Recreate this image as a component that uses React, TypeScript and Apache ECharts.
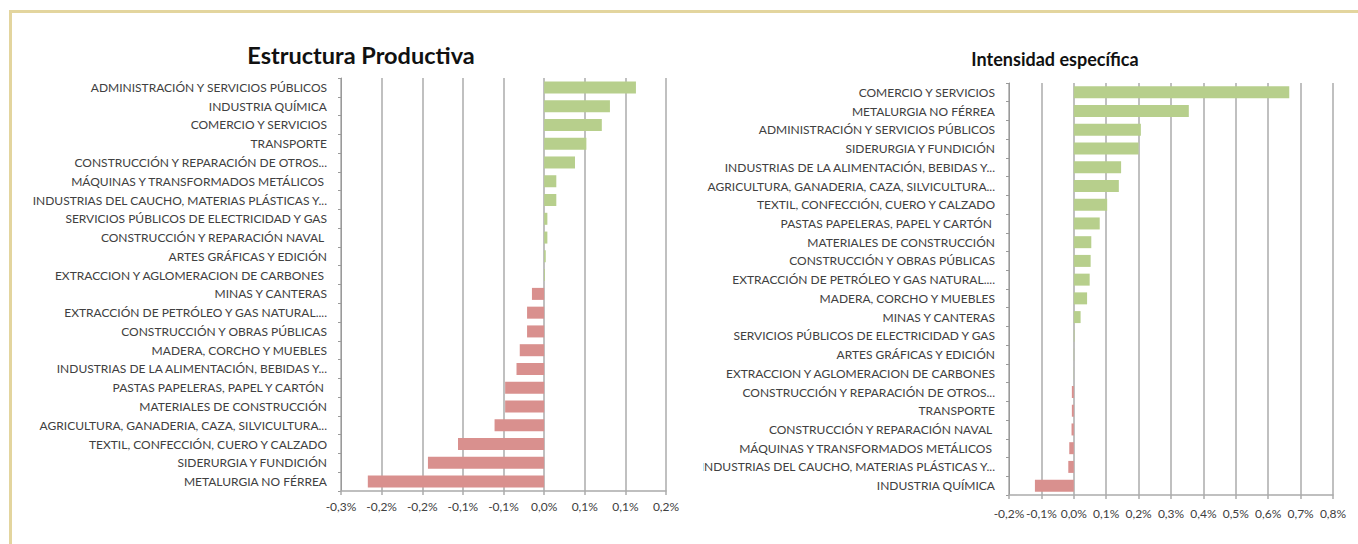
import React, { useEffect, useRef } from "react";
import * as echarts from "echarts";

// ---- Left chart: Estructura Productiva ----
const leftTitle = "Estructura Productiva";
const leftCategories = [
  "ADMINISTRACIÓN Y SERVICIOS PÚBLICOS",
  "INDUSTRIA QUÍMICA",
  "COMERCIO Y SERVICIOS",
  "TRANSPORTE",
  "CONSTRUCCIÓN Y REPARACIÓN DE OTROS...",
  "MÁQUINAS Y TRANSFORMADOS METÁLICOS ",
  "INDUSTRIAS DEL CAUCHO, MATERIAS PLÁSTICAS Y...",
  "SERVICIOS PÚBLICOS DE ELECTRICIDAD Y GAS",
  "CONSTRUCCIÓN Y REPARACIÓN NAVAL ",
  "ARTES GRÁFICAS Y EDICIÓN",
  "EXTRACCION Y AGLOMERACION DE CARBONES ",
  "MINAS Y CANTERAS",
  "EXTRACCIÓN DE PETRÓLEO Y GAS NATURAL....",
  "CONSTRUCCIÓN Y OBRAS PÚBLICAS",
  "MADERA, CORCHO Y MUEBLES",
  "INDUSTRIAS DE LA ALIMENTACIÓN, BEBIDAS Y...",
  "PASTAS PAPELERAS, PAPEL Y CARTÓN ",
  "MATERIALES DE CONSTRUCCIÓN",
  "AGRICULTURA, GANADERIA, CAZA, SILVICULTURA...",
  "TEXTIL, CONFECCIÓN, CUERO Y CALZADO",
  "SIDERURGIA Y FUNDICIÓN",
  "METALURGIA NO FÉRREA",
];
const leftValues = [
  0.113, 0.081, 0.071, 0.052, 0.038, 0.015, 0.015, 0.004, 0.004, 0.002, 0.001,
  -0.015, -0.021, -0.021, -0.030, -0.034, -0.048, -0.048, -0.061, -0.106, -0.143, -0.217,
];
const leftAxis = { min: -0.25, max: 0.15, interval: 0.05 };

// ---- Right chart: Intensidad específica ----
const rightTitle = "Intensidad específica";
const rightCategories = [
  "COMERCIO Y SERVICIOS",
  "METALURGIA NO FÉRREA",
  "ADMINISTRACIÓN Y SERVICIOS PÚBLICOS",
  "SIDERURGIA Y FUNDICIÓN",
  "INDUSTRIAS DE LA ALIMENTACIÓN, BEBIDAS Y...",
  "AGRICULTURA, GANADERIA, CAZA, SILVICULTURA...",
  "TEXTIL, CONFECCIÓN, CUERO Y CALZADO",
  "PASTAS PAPELERAS, PAPEL Y CARTÓN ",
  "MATERIALES DE CONSTRUCCIÓN",
  "CONSTRUCCIÓN Y OBRAS PÚBLICAS",
  "EXTRACCIÓN DE PETRÓLEO Y GAS NATURAL....",
  "MADERA, CORCHO Y MUEBLES",
  "MINAS Y CANTERAS",
  "SERVICIOS PÚBLICOS DE ELECTRICIDAD Y GAS",
  "ARTES GRÁFICAS Y EDICIÓN",
  "EXTRACCION Y AGLOMERACION DE CARBONES",
  "CONSTRUCCIÓN Y REPARACIÓN DE OTROS...",
  "TRANSPORTE",
  "CONSTRUCCIÓN Y REPARACIÓN NAVAL ",
  "MÁQUINAS Y TRANSFORMADOS METÁLICOS ",
  "INDUSTRIAS DEL CAUCHO, MATERIAS PLÁSTICAS Y...",
  "INDUSTRIA QUÍMICA",
];
const rightValues = [
  0.665, 0.355, 0.207, 0.200, 0.146, 0.139, 0.103, 0.080, 0.054, 0.052, 0.049,
  0.041, 0.021, 0.002, 0.001, 0.0005, -0.006, -0.006, -0.007, -0.014, -0.017, -0.12,
];
const rightAxis = { min: -0.2, max: 0.8, interval: 0.1 };

const GREEN = "#b7cf8c";
const RED = "#d9908e";
const GRID = "#ababab";
const TEXT = "#404040";
const FONT = "Lato";

function pctLabel(v: number): string {
  if (Math.abs(v) < 1e-9) return "0,0%";
  const sign = v < 0 ? "-" : "";
  const a = Math.round(Math.abs(v) * 10 + 1e-6) / 10;
  return sign + a.toFixed(1).replace(".", ",") + "%";
}

function buildOption(
  title: string,
  titleX: number,
  titleY: number,
  titleSize: number,
  cats: string[],
  vals: number[],
  axis: { min: number; max: number; interval: number },
  grid: { left: number; top: number; width: number; height: number },
  xLabelMargin: number
) {
  return {
    animation: false,
    textStyle: { fontFamily: FONT },
    graphic: [
      {
        type: "text",
        x: titleX,
        y: titleY,
        style: {
          text: title,
          textAlign: "center",
          textVerticalAlign: "middle",
          fontFamily: FONT,
          fontSize: titleSize,
          fontWeight: "bold",
          fill: "#111111",
        },
      },
    ],
    grid: { ...grid, containLabel: false, outerBoundsMode: "none" },
    xAxis: {
      type: "value",
      min: axis.min,
      max: axis.max,
      interval: axis.interval,
      axisLine: { show: true, onZero: false, lineStyle: { color: GRID, width: 1.5 } },
      axisTick: { show: true, length: 4, lineStyle: { color: GRID, width: 1.5 } },
      splitLine: { show: true, lineStyle: { color: GRID, width: 1.5 } },
      axisLabel: {
        color: TEXT,
        fontSize: 12,
        fontFamily: FONT,
        margin: xLabelMargin,
        formatter: pctLabel,
        showMinLabel: true,
        showMaxLabel: true,
        hideOverlap: false,
      },
    },
    yAxis: [
      {
        type: "category",
        data: cats,
        inverse: true,
        position: "left",
        axisLine: { show: false },
        axisTick: { show: false },
        splitLine: { show: false },
        axisLabel: {
          color: TEXT,
          fontSize: 12,
          fontFamily: FONT,
          margin: 14,
          interval: 0,
        },
      },
      {
        type: "category",
        data: cats,
        inverse: true,
        position: "left",
        axisLine: { show: true, onZero: true, lineStyle: { color: "#9a9a9a", width: 1 } },
        axisTick: { show: true, length: 3, lineStyle: { color: "#9a9a9a", width: 1 } },
        axisLabel: { show: false },
        splitLine: { show: false },
      },
    ],
    series: [
      {
        type: "bar",
        yAxisIndex: 0,
        data: vals,
        barWidth: "64%",
        itemStyle: {
          color: (p: any) => (p.value >= 0 ? GREEN : RED),
        },
      },
    ],
  };
}

function Chart(props: { style: React.CSSProperties; option: any }) {
  const ref = useRef<HTMLDivElement>(null);
  useEffect(() => {
    if (!ref.current) return;
    const chart = echarts.init(ref.current, null, { renderer: "svg" });
    chart.setOption(props.option);
    return () => chart.dispose();
  }, []);
  return <div ref={ref} style={props.style} />;
}

export default function App() {
  const leftOption = buildOption(
    leftTitle,
    361,
    55,
    23.5,
    leftCategories,
    leftValues,
    leftAxis,
    { left: 341, top: 78, width: 325, height: 413 },
    9
  );
  const rightOption = buildOption(
    rightTitle,
    1055 - 703,
    59,
    18,
    rightCategories,
    rightValues,
    rightAxis,
    { left: 1009 - 703, top: 83, width: 324, height: 412 },
    12
  );
  return (
    <div
      style={{
        position: "absolute",
        left: 0,
        top: 0,
        width: 1358,
        height: 544,
        background: "#ffffff",
        overflow: "hidden",
      }}
    >
      <div
        style={{
          position: "absolute",
          left: 9,
          top: 10,
          width: 1400,
          height: 600,
          borderTop: "3px solid #e3d59e",
          borderLeft: "3px solid #e3d59e",
        }}
      />
      <Chart
        option={leftOption}
        style={{ position: "absolute", left: 0, top: 0, width: 700, height: 544 }}
      />
      <Chart
        option={rightOption}
        style={{ position: "absolute", left: 703, top: 0, width: 655, height: 544 }}
      />
    </div>
  );
}
